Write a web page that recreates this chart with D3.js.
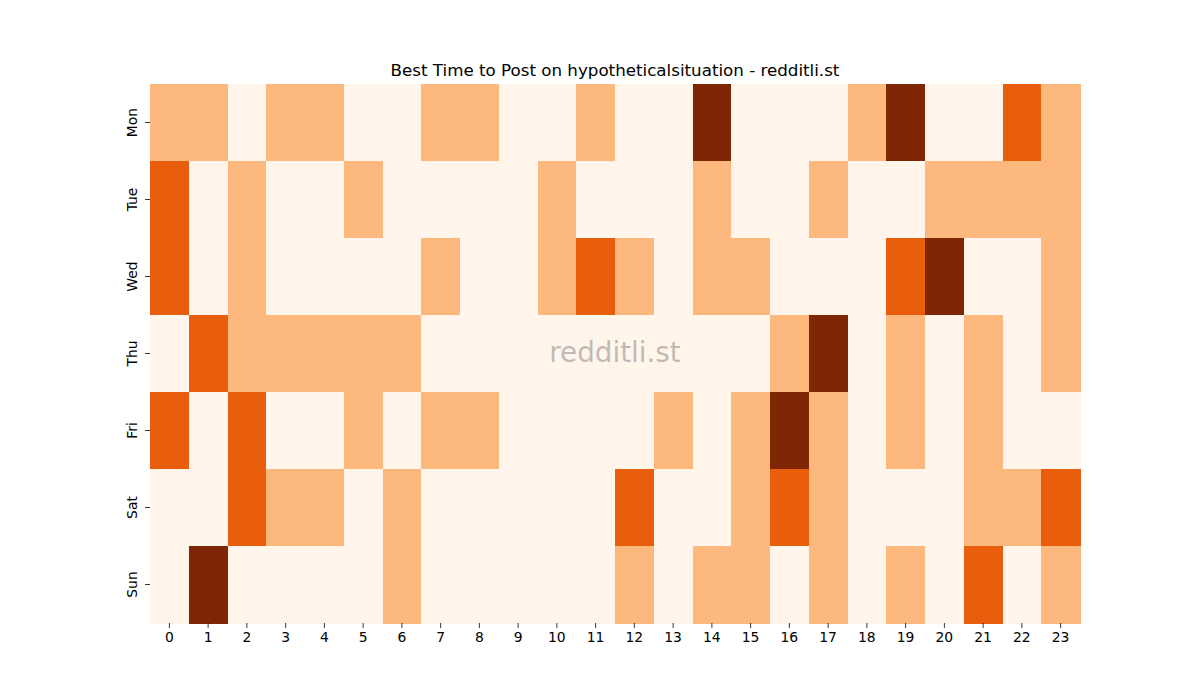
<!DOCTYPE html>
<html><head><meta charset="utf-8">
<script src="https://cdn.jsdelivr.net/npm/d3@7"></script>
<style>body{margin:0;background:#fff;} svg{display:block;font-family:"DejaVu Sans",sans-serif;}</style>
</head><body>
<svg id="chart" width="1200" height="700"></svg>
<script>
const days = ["Mon","Tue","Wed","Thu","Fri","Sat","Sun"];
const hours = ["0","1","2","3","4","5","6","7","8","9","10","11","12","13","14","15","16","17","18","19","20","21","22","23"];
const mon = [1,1,0,1,1,0,0,1,1,0,0,1,0,0,3,0,0,0,1,3,0,0,2,1];
const tue = [2,0,1,0,0,1,0,0,0,0,1,0,0,0,1,0,0,1,0,0,1,1,1,1];
const wed = [2,0,1,0,0,0,0,1,0,0,1,2,1,0,1,1,0,0,0,2,3,0,0,1];
const thu = [0,2,1,1,1,1,1,0,0,0,0,0,0,0,0,0,1,3,0,1,0,1,0,1];
const fri = [2,0,2,0,0,1,0,1,1,0,0,0,0,1,0,1,3,1,0,1,0,1,0,0];
const sat = [0,0,2,1,1,0,1,0,0,0,0,0,2,0,0,1,2,1,0,0,0,1,1,2];
const sun = [0,3,0,0,0,0,1,0,0,0,0,0,1,0,1,1,0,1,0,1,0,2,0,1];
const rows = [mon,tue,wed,thu,fri,sat,sun];
const levels = [0,1,2,3];
const palette = ["#fff5eb","#fdb97d","#e95e0d","#7f2704"];
const title = "Best Time to Post on hypotheticalsituation - redditli.st";
const watermark = "redditli.st";

const svg = d3.select("#chart");
const L=150, R=1080, T=84, B=623;
const x = d3.scaleBand().domain(hours).range([L,R]).padding(0);
const y = d3.scaleBand().domain(days).range([T,B]).padding(0);
const color = d3.scaleOrdinal().domain(levels).range(palette);

const cells = [];
rows.forEach((r,i)=>r.forEach((v,j)=>cells.push({day:days[i],hour:hours[j],v})));
svg.append("g").selectAll("rect").data(cells).join("rect")
  .attr("x",d=>x(d.hour)).attr("y",d=>y(d.day))
  .attr("width",x.bandwidth()+0.5).attr("height",y.bandwidth()+0.5)
  .attr("fill",d=>color(d.v)).attr("shape-rendering","crispEdges");

const xa = svg.append("g").attr("transform",`translate(0,${B})`)
  .call(d3.axisBottom(x).tickSize(4.9).tickPadding(4));
xa.select(".domain").remove();
xa.selectAll("text").attr("font-size","13.9px").attr("fill","#000").attr("font-family","DejaVu Sans");
xa.selectAll("line").attr("stroke","#000").attr("stroke-width",0.8);

const ya = svg.append("g").attr("transform",`translate(${L},0)`)
  .call(d3.axisLeft(y).tickSize(4.9).tickPadding(4));
ya.select(".domain").remove();
ya.selectAll("line").attr("stroke","#000").attr("stroke-width",0.8);
ya.selectAll("text").attr("font-size","13.9px").attr("fill","#000").attr("font-family","DejaVu Sans")
  .attr("transform","rotate(-90)").attr("x",0).attr("y",0)
  .attr("dx",0).attr("dy",0)
  .attr("text-anchor","middle")
  .each(function(){ d3.select(this).attr("transform",`translate(-13,0) rotate(-90)`); });

svg.append("text").attr("x",(L+R)/2).attr("y",76).attr("text-anchor","middle")
  .attr("font-size","16.7px").attr("fill","#000").text(title);

svg.append("text").attr("x",(L+R)/2).attr("y",362).attr("text-anchor","middle")
  .attr("font-size","27.8px").attr("fill","#808080").attr("fill-opacity",0.5).text(watermark);
</script>
</body></html>
